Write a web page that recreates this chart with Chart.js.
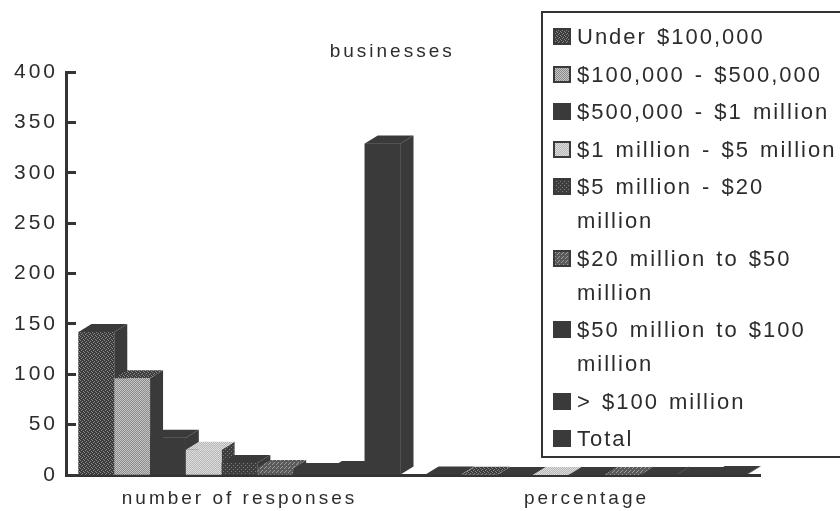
<!DOCTYPE html>
<html>
<head>
<meta charset="utf-8">
<title>businesses</title>
<script src="https://cdn.jsdelivr.net/npm/chart.js@4.4.1/dist/chart.umd.min.js"></script>
<style>
  html, body { margin: 0; padding: 0; background: #fff; overflow: hidden; }
  #wrap { position: relative; width: 840px; height: 511px; overflow: hidden; }
  #chart { position: absolute; left: 0; top: 0; }
  #legend {
    position: absolute; left: 541px; top: 11px; width: 360px; height: 447px;
    box-sizing: border-box; border: 2px solid #333; border-right: none; background: #fff;
    font-family: "Liberation Sans", Arial, sans-serif; font-size: 22px; color: #2c2c2c;
    letter-spacing: 2px; word-spacing: 2px;
  }
  #legend ul { list-style: none; margin: 0; padding: 7px 0 0 10px; }
  #legend li { display: flex; align-items: flex-start; margin-bottom: 3.5px; }
  #legend canvas { flex: none; margin: 8px 6px 0 0; }
  #legend span { width: 268px; line-height: 34px; }
</style>
</head>
<body>
<div id="wrap">
  <canvas id="chart" width="840" height="511"></canvas>
  <div id="legend"><ul></ul></div>
</div>
<script>
const categories = ["number of responses", "percentage"];
const revenueBands = [
  "Under $100,000",
  "$100,000 - $500,000",
  "$500,000 - $1 million",
  "$1 million - $5 million",
  "$5 million - $20 million",
  "$20 million to $50 million",
  "$50 million to $100 million",
  "> $100 million",
  "Total"
];
const responses = [142, 96, 37, 25, 12, 7, 4, 6, 329];
const shares = [0.43, 0.29, 0.11, 0.08, 0.04, 0.02, 0.01, 0.02, 1.00];
const yTicks = [0, 50, 100, 150, 200, 250, 300, 350, 400];

const ink = "#3a3a3a";
const textColor = "#2c2c2c";
const fontFamily = '"Liberation Sans", Arial, sans-serif';

// small repeating dot textures, like the old print fills
function speckle(base, dot, cells) {
  const c = document.createElement("canvas");
  c.width = c.height = 4;
  const g = c.getContext("2d");
  g.fillStyle = base;
  g.fillRect(0, 0, 4, 4);
  g.fillStyle = dot;
  cells.forEach(([px, py]) => g.fillRect(px, py, 1, 1));
  return g.createPattern(c, "repeat");
}
const checker = [[0, 0], [2, 0], [1, 1], [3, 1], [0, 2], [2, 2], [1, 3], [3, 3]];
const darkSpeckle = speckle("#3c3c3c", "#8a8a8a", [[0, 0], [2, 1], [1, 2], [3, 3]]);
const midDots = speckle("#8a8a8a", "#c6c6c6", checker);
const lightDots = speckle("#b8b8b8", "#dcdcdc", checker);
const sparseDots = speckle("#3e3e3e", "#7c7c7c", [[1, 1], [3, 3]]);
const greyDots = speckle("#5a5a5a", "#9c9c9c", [[0, 0], [2, 2], [1, 3]]);

const fronts = [darkSpeckle, midDots, ink, lightDots, sparseDots, greyDots, ink, ink, ink];
const faces = [
  { top: ink, side: ink },
  { top: darkSpeckle, side: ink },
  { top: ink, side: ink },
  { top: lightDots, side: sparseDots },
  { top: ink, side: ink },
  { top: greyDots, side: ink },
  { top: ink, side: ink },
  { top: ink, side: ink },
  { top: ink, side: ink }
];

const datasets = revenueBands.map((band, i) => ({
  label: band,
  data: [responses[i], shares[i]],
  backgroundColor: fronts[i],
  borderWidth: 0
}));

Chart.defaults.font.family = fontFamily;
Chart.defaults.color = textColor;

const letterSpacing = {
  id: "letterSpacing",
  beforeUpdate(chart) { chart.ctx.letterSpacing = "3px"; },
  beforeDraw(chart) { chart.ctx.letterSpacing = "3px"; }
};

// caption over the plot, a little left of its middle
const heading = {
  id: "heading",
  afterDraw(chart) {
    const { ctx, chartArea } = chart;
    ctx.save();
    ctx.font = "19px " + fontFamily;
    ctx.fillStyle = textColor;
    ctx.textAlign = "center";
    ctx.textBaseline = "middle";
    ctx.fillText("businesses", chartArea.left + chartArea.width * 0.47, chartArea.top - 20);
    ctx.restore();
  }
};

// extrude every bar: side, top, then the front again, left to right
const depthX = 13;
const depthY = 8;
const bar3d = {
  id: "bar3d",
  afterDatasetsDraw(chart) {
    const ctx = chart.ctx;
    ctx.save();
    categories.forEach((_, j) => {
      chart.data.datasets.forEach((ds, i) => {
        const bar = chart.getDatasetMeta(i).data[j];
        const { x, y, base, width } = bar.getProps(["x", "y", "base", "width"], true);
        const left = x - width / 2;
        const right = x + width / 2;

        ctx.fillStyle = faces[i].side;
        ctx.beginPath();
        ctx.moveTo(right, y);
        ctx.lineTo(right + depthX, y - depthY);
        ctx.lineTo(right + depthX, base - depthY);
        ctx.lineTo(right, base);
        ctx.closePath();
        ctx.fill();

        ctx.fillStyle = faces[i].top;
        ctx.beginPath();
        ctx.moveTo(left, y);
        ctx.lineTo(left + depthX, y - depthY);
        ctx.lineTo(right + depthX, y - depthY);
        ctx.lineTo(right, y);
        ctx.closePath();
        ctx.fill();

        ctx.fillStyle = ds.backgroundColor;
        ctx.fillRect(left, y, width, base - y);
      });
    });
    ctx.restore();
  }
};

const htmlLegend = {
  id: "htmlLegend",
  afterUpdate(chart) {
    const list = document.querySelector("#legend ul");
    list.innerHTML = "";
    chart.data.datasets.forEach((ds) => {
      const li = document.createElement("li");
      const swatch = document.createElement("canvas");
      swatch.width = 18;
      swatch.height = 17;
      const g = swatch.getContext("2d");
      g.fillStyle = ds.backgroundColor;
      g.fillRect(0, 0, 18, 17);
      g.strokeStyle = ink;
      g.lineWidth = 2;
      g.strokeRect(1, 1, 16, 15);
      const text = document.createElement("span");
      text.textContent = ds.label;
      li.append(swatch, text);
      list.append(li);
    });
  }
};

new Chart(document.getElementById("chart").getContext("2d"), {
  type: "bar",
  data: { labels: categories, datasets: datasets },
  options: {
    responsive: false,
    animation: false,
    events: [],
    layout: { padding: { left: 0, right: 80, top: 72, bottom: 0 } },
    datasets: {
      bar: { barPercentage: 1, categoryPercentage: 0.928 }
    },
    plugins: {
      legend: { display: false },
      tooltip: { enabled: false },
      title: { display: false }
    },
    scales: {
      x: {
        afterFit: (scale) => { scale.height = 36; },
        grid: { display: false, drawTicks: false },
        border: { display: true, width: 3, color: "#333" },
        ticks: { color: textColor, font: { size: 19 }, padding: 12 }
      },
      y: {
        min: 0,
        max: 400,
        afterBuildTicks: (scale) => { scale.ticks = yTicks.map((v) => ({ value: v })); },
        afterFit: (scale) => { scale.width = 66; },
        grid: { drawOnChartArea: false, drawTicks: true, tickLength: -10, tickWidth: 3, tickColor: "#333" },
        border: { display: true, width: 3, color: "#333" },
        ticks: { color: textColor, font: { size: 21 }, padding: 18 }
      }
    }
  },
  plugins: [letterSpacing, heading, bar3d, htmlLegend]
});
</script>
</body>
</html>
